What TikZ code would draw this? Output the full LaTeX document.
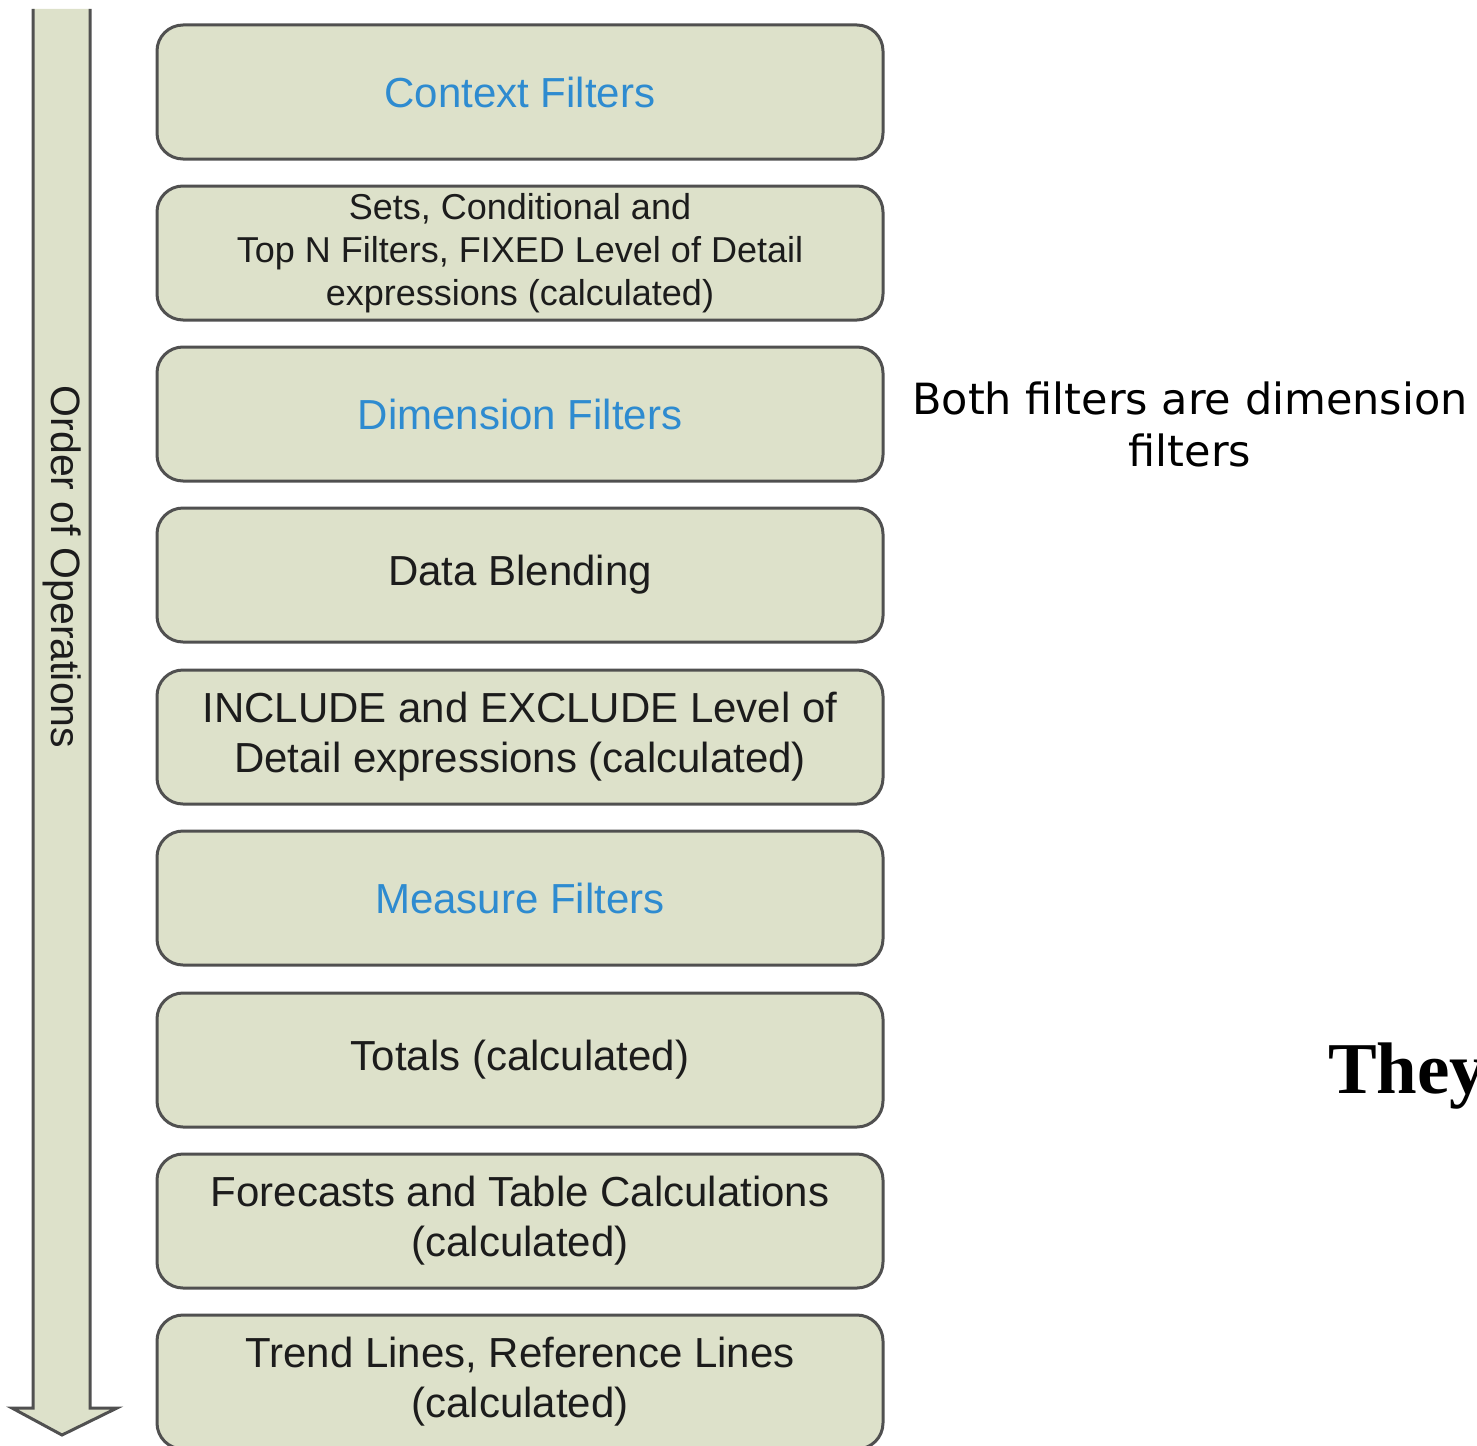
\documentclass[tikz,border=0pt]{standalone}
\usepackage{fontspec}
\setmainfont{Liberation Sans}
\newfontfamily\dejavu{DejaVu Sans}
\newfontfamily\timesfont{Liberation Serif}
\definecolor{boxfill}{HTML}{DDE1CA}
\definecolor{boxline}{HTML}{505050}
\definecolor{linkblue}{HTML}{2E8BD0}
\definecolor{bodytext}{HTML}{1C1C1C}
\tikzset{
  opbox/.style={draw=boxline, line width=3pt, fill=boxfill, rounded corners=26pt,
    minimum width=726pt, minimum height=134pt, align=center, inner sep=0pt,
    text=bodytext, font=\fontsize{42}{50}\selectfont},
  smallbox/.style={opbox, font=\fontsize{36}{43}\selectfont},
  bluetext/.style={text=linkblue},
}
\begin{document}
\begin{tikzpicture}[x=1pt,y=-1pt]
\useasboundingbox (0,0) rectangle (1477,1445);
\clip (0,0) rectangle (1477,1445);

% Downward arrow marking the order of operations
\fill[boxfill] (33,9) -- (33,1408) -- (12,1408) -- (62,1435) -- (117,1408) -- (90,1408) -- (90,9) -- cycle;
\draw[boxline, line width=3pt, line join=miter] (33,9) -- (33,1408) -- (12,1408) -- (62,1435) -- (117,1408) -- (90,1408) -- (90,9);
\node[rotate=-90, text=bodytext, font=\fontsize{41}{48}\selectfont] (order) at (62,567) {Order of Operations};

% Stages
\node[opbox, bluetext] (ctx) at (520,92) {Context Filters};
\node[smallbox] (sets) at (520,253) {Sets, Conditional and\\Top N Filters, FIXED Level of Detail\\expressions (calculated)};
\node[opbox, bluetext] (dim) at (520,414) {Dimension Filters};
\node[opbox] (blend) at (520,575) {Data Blending};
\node[opbox] (lod) at (520,737) {INCLUDE and EXCLUDE Level of\\Detail expressions (calculated)};
\node[opbox, bluetext] (meas) at (520,898) {Measure Filters};
\node[opbox] (tot) at (520,1060) {Totals (calculated)};
\node[opbox] (fc) at (520,1221) {Forecasts and Table Calculations\\(calculated)};
\node[opbox] (trend) at (520,1382) {Trend Lines, Reference Lines\\(calculated)};

% Side notes
\node[align=center, font=\dejavu\fontsize{43}{52}\selectfont, text=black] (note) at (1190,424) {Both filters are dimension\\filters};
\node[anchor=base west, inner sep=0pt, font=\timesfont\bfseries\fontsize{73}{80}\selectfont, text=black] (they) at (1328,1093) {They};
\end{tikzpicture}
\end{document}
